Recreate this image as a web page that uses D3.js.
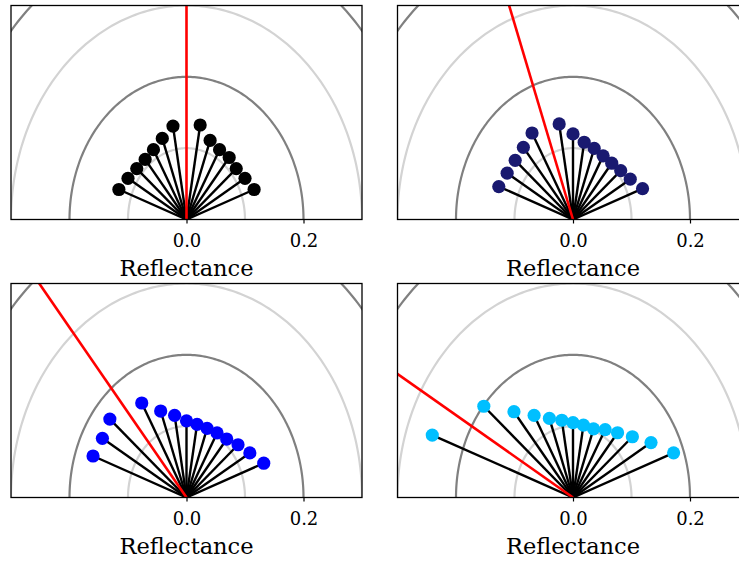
<!DOCTYPE html>
<html>
<head>
<meta charset="utf-8">
<script src="https://cdn.jsdelivr.net/npm/d3@7"></script>
<style>
  html, body { margin: 0; padding: 0; background: #fff; }
  svg { display: block; }
  text { font-family: "DejaVu Serif", serif; fill: #000; }
</style>
</head>
<body>
<svg id="chart" width="739" height="562"></svg>
<script>
// View zenith angles (degrees, negative = sun side)
const viewZenith = [-70, -60, -50, -40, -30, -20, -10, 0, 10, 20, 30, 40, 50, 60, 70];

// Solar zenith angle for each panel
const solarZenith = [0, 20, 40, 60];

// Reflectance per view angle (null where the view coincides with the sun)
const reflSza0  = [0.123, 0.1155, 0.111, 0.110, 0.113, 0.121, 0.133, null, 0.1345, 0.118, 0.113, 0.1135, 0.111, 0.1155, 0.123];
const reflSza20 = [0.135, 0.130, 0.129, 0.132, 0.140, null, 0.136, 0.120, 0.110, 0.106, 0.103, 0.103, 0.1065, 0.113, 0.1265];
const reflSza40 = [0.170, 0.166, 0.171, null, 0.153, 0.129, 0.117, 0.1075, 0.104, 0.103, 0.1045, 0.107, 0.115, 0.125, 0.1405];
const reflSza60 = [0.256, null, 0.199, 0.157, 0.133, 0.118, 0.110, 0.105, 0.103, 0.1025, 0.110, 0.1185, 0.1325, 0.154, 0.183];

const reflSeries = [reflSza0, reflSza20, reflSza40, reflSza60];
const markerColors = ["#000000", "#191970", "#0000ff", "#00bfff"];

// Reference circles
const gridRadii = [0.1, 0.2, 0.3, 0.4];
const gridColors = ["#d3d3d3", "#808080", "#d3d3d3", "#808080"];

const xTicks = [0.0, 0.2];
const xLabel = "Reflectance";

const svg = d3.select("#chart");
const W = 351, H = 214;
const lefts = [11, 397.5];
const tops = [5.5, 283.5];

const toRad = d => d * Math.PI / 180;

solarZenith.forEach((sza, i) => {
  const col = i % 2, row = Math.floor(i / 2);
  const g = svg.append("g").attr("transform", `translate(${lefts[col]},${tops[row]})`);

  const x = d3.scaleLinear().domain([-0.3, 0.3]).range([0, W]);
  const y = d3.scaleLinear().domain([0, 0.3]).range([H, 0]);

  const clipId = "clip" + i;
  g.append("clipPath").attr("id", clipId)
    .append("rect").attr("width", W).attr("height", H);

  const plot = g.append("g").attr("clip-path", `url(#${clipId})`);

  // polar -> cartesian in data units, angle measured from vertical
  const px = (r, a) => x(r * Math.sin(toRad(a)));
  const py = (r, a) => y(r * Math.cos(toRad(a)));

  const arcLine = d3.line().x(d => px(d[0], d[1])).y(d => py(d[0], d[1]));
  gridRadii.forEach((r, k) => {
    const pts = d3.range(-90, 90.5, 1).map(a => [r, a]);
    plot.append("path")
      .attr("d", arcLine(pts))
      .attr("fill", "none")
      .attr("stroke", gridColors[k])
      .attr("stroke-width", 2.2);
  });

  const pts = viewZenith.map((a, k) => ({ a, r: reflSeries[i][k] })).filter(d => d.r != null);

  plot.selectAll("line.stem").data(pts).join("line")
    .attr("class", "stem")
    .attr("x1", x(0)).attr("y1", y(0))
    .attr("x2", d => px(d.r, d.a)).attr("y2", d => py(d.r, d.a))
    .attr("stroke", "#000").attr("stroke-width", 2.4);

  // solar direction
  plot.append("line")
    .attr("x1", x(0)).attr("y1", y(0))
    .attr("x2", px(0.6, -sza)).attr("y2", py(0.6, -sza))
    .attr("stroke", "#ff0000").attr("stroke-width", 2.6);

  plot.selectAll("circle.pt").data(pts).join("circle")
    .attr("class", "pt")
    .attr("cx", d => px(d.r, d.a)).attr("cy", d => py(d.r, d.a))
    .attr("r", 6.6)
    .attr("fill", markerColors[i]);

  // frame
  g.append("rect").attr("width", W).attr("height", H)
    .attr("fill", "none").attr("stroke", "#000").attr("stroke-width", 1.3);

  // x axis
  const ax = g.append("g").attr("transform", `translate(0,${H})`)
    .call(d3.axisBottom(x).tickValues(xTicks).tickFormat(d3.format(".1f")).tickSize(4).tickPadding(6));
  ax.select(".domain").remove();
  ax.selectAll(".tick line").attr("stroke", "#000").attr("stroke-width", 1.2);
  ax.selectAll(".tick text")
    .attr("y", 27.5)
    .attr("dy", null)
    .attr("font-family", "DejaVu Serif")
    .attr("font-size", 18)
    .attr("fill", "#000");

  g.append("text")
    .attr("x", x(0)).attr("y", H + 56.5)
    .attr("text-anchor", "middle")
    .attr("font-size", 22.5)
    .text(xLabel);
});
</script>
</body>
</html>
